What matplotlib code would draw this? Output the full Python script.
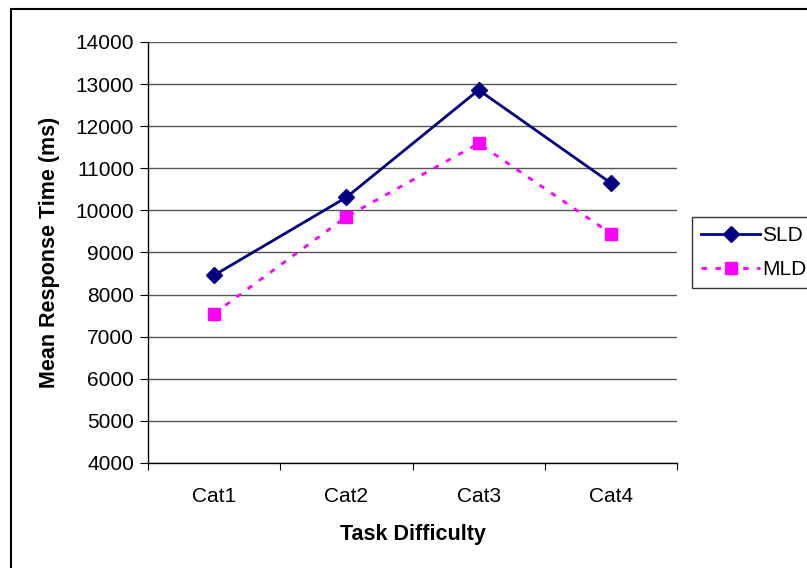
import matplotlib.pyplot as plt
from matplotlib.patches import Rectangle

plt.rcParams['font.family'] = ['Liberation Sans', 'DejaVu Sans']

categories = ['Cat1', 'Cat2', 'Cat3', 'Cat4']
sld = [8460, 10310, 12860, 10650]
mld = [7550, 9850, 11590, 9450]

fig = plt.figure(figsize=(8.07, 5.68), dpi=100)
ax = fig.add_axes([148 / 807, 1 - 463 / 568, 529 / 807, 421 / 568])

x = range(1, len(categories) + 1)
ax.plot(x, sld, color='#000080', lw=2, marker='D', markersize=8.5, label='SLD', zorder=3)
ax.plot(x, mld, color='#FF00FF', lw=2, ls=(0, (2, 3)), marker='s', markersize=9, label='MLD', zorder=3)

ax.set_xlim(0.5, 4.5)
ax.set_ylim(4000, 14000)
ax.set_yticks(range(4000, 14001, 1000))
ax.set_xticks([0.5, 1.5, 2.5, 3.5, 4.5])
ax.set_xticklabels([])
ax.set_xticks(list(x), minor=True)
ax.set_xticklabels(categories, minor=True)
ax.tick_params(axis='x', which='minor', length=0, pad=17, labelsize=15)
ax.tick_params(axis='x', which='major', length=5, direction='out')
ax.tick_params(axis='y', length=6, direction='out', labelsize=15, pad=4)
ax.yaxis.grid(True, color='#555555', lw=1)
ax.set_axisbelow(True)
for s in ['top', 'right']:
    ax.spines[s].set_visible(False)
for s in ['left', 'bottom']:
    ax.spines[s].set_color('black')
    ax.spines[s].set_linewidth(1)

ax.set_xlabel('Task Difficulty', fontsize=15.5, fontweight='bold', labelpad=13)
ax.set_ylabel('Mean Response Time (ms)', fontsize=15.5, fontweight='bold', labelpad=11)

leg = fig.legend(loc='upper left', bbox_to_anchor=(692 / 807, 1 - 217 / 568),
                 fontsize=15, frameon=True, fancybox=False, handlelength=2.8,
                 borderpad=0.45, labelspacing=0.7, handletextpad=0.1, borderaxespad=0)
leg.get_frame().set_edgecolor('black')
leg.get_frame().set_linewidth(1)

fig.add_artist(Rectangle((11 / 807, -0.1), 1.2, 1.1 - 9 / 568, transform=fig.transFigure,
                         fill=False, lw=1.5, edgecolor='black', clip_on=False))

fig.savefig('out.png', dpi=100)
